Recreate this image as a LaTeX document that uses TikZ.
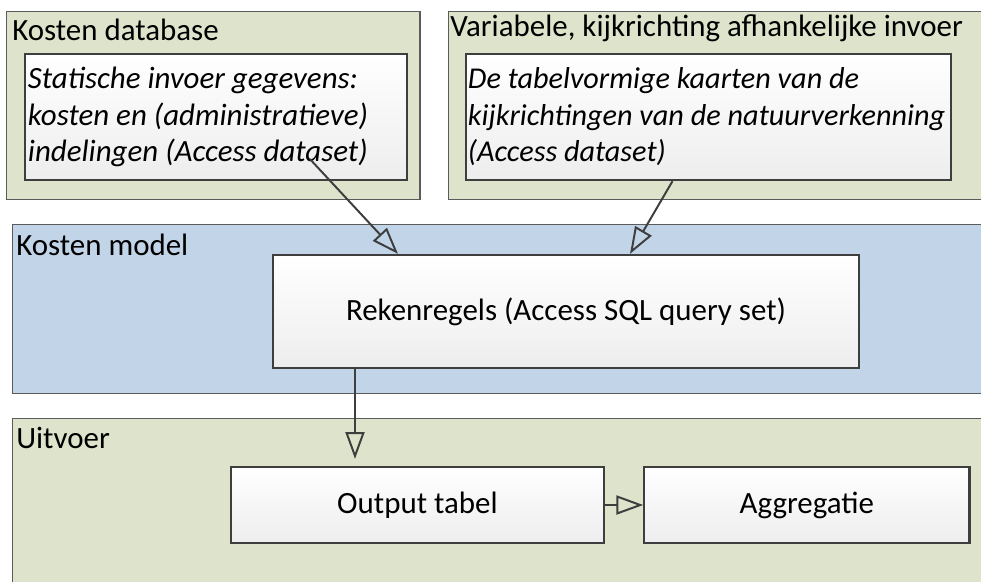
\documentclass[tikz,border=0pt]{standalone}
\usepackage{fontspec}
\setmainfont{Carlito}
\usetikzlibrary{arrows.meta, positioning, calc}

\definecolor{groenvlak}{RGB}{222,227,203}
\definecolor{blauwvlak}{RGB}{194,213,232}
\definecolor{lijn}{RGB}{62,62,62}

\begin{document}
\begin{tikzpicture}[x=0.025cm, y=-0.025cm,
        >={Triangle[open, length=19pt, width=13.5pt]},
        font=\fontsize{22}{26}\selectfont,
        vlak/.style={draw=lijn!85, line width=1pt, anchor=north west, inner sep=0pt},
        blok/.style={draw=lijn, line width=1.6pt, top color=white, bottom color=gray!14, align=center, inner sep=0pt},
        invoer/.style={blok, align=left, inner xsep=0.075cm, minimum height=3.15cm,
          font=\fontsize{22}{26}\selectfont\itshape, execute at begin node={\spaceskip=0pt\relax}},
        titel/.style={anchor=base west, inner sep=0pt},
        pijl/.style={->, draw=lijn, line width=1.4pt}]

      \useasboundingbox (0,0) rectangle (981,581);

      % Vlakken
      \node[vlak, fill=groenvlak, minimum width=10.325cm, minimum height=4.7cm] (kostenDb) at (6,11) {};
      \node[vlak, fill=groenvlak, minimum width=13.8cm, minimum height=4.7cm] (variabel) at (448,11) {};
      \node[vlak, fill=blauwvlak, minimum width=24.7cm, minimum height=4.225cm] (model) at (12,224) {};
      \node[vlak, fill=groenvlak, minimum width=24.7cm, minimum height=5.05cm] (uitvoer) at (12,418) {};

      % Titels
      \node[titel] (kostenDbTitel) at ($(kostenDb.north west)+(6,29)$) {Kosten database};
      \node[titel] (variabelTitel) at ($(variabel.north west)+(2,25)$) {Variabele, kijkrichting afhankelijke invoer};
      \node[titel] (modelTitel) at ($(model.north west)+(4,31)$) {Kosten model};
      \node[titel] (uitvoerTitel) at ($(uitvoer.north west)+(4,30)$) {Uitvoer};

      % Blokken
      \node[invoer, text width=9.4cm] (statisch) at (216,117)
        {Statische invoer gegevens:\\kosten en (administratieve)\\indelingen (Access dataset)};
      \node[invoer, text width=12.025cm, inner xsep=0.05cm, font=\fontsize{21.5}{26}\selectfont\itshape] (tabelKaart) at (708.5,117)
        {De tabelvormige kaarten van de\\\mbox{kijkrichtingen van de natuurverkenning}\\(Access dataset)};
      \node[blok, minimum width=14.65cm, minimum height=2.825cm] (reken) at (566,311.5)
        {Rekenregels (Access SQL query set)};
      \node[blok, minimum width=9.325cm, minimum height=1.9cm] (output) at (417.5,505) {Output tabel};
      \node[blok, minimum width=8.125cm, minimum height=1.9cm, right=0.95cm of output] (aggr) {Aggregatie};

      % Verbindingen
      \draw[pijl] ([shift={(94,-22)}]statisch.south) -- ([shift={(-168,0)}]reken.north);
      \draw[pijl] ([shift={(-36,0)}]tabelKaart.south) -- ([shift={(64,0)}]reken.north);
      \draw[pijl] ([shift={(-211,0)}]reken.south) -- ([shift={(-62.5,-7)}]output.north);
      \draw[pijl] (output) -- (aggr);

    \end{tikzpicture}
\end{document}
